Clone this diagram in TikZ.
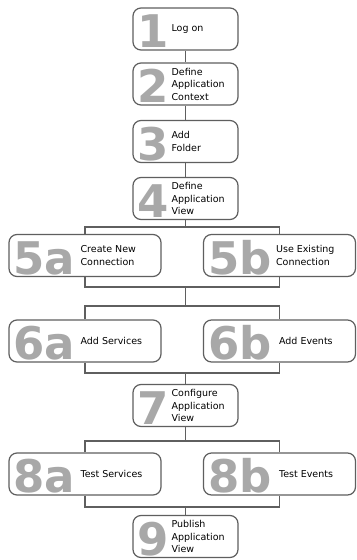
\documentclass[tikz,border=0pt]{standalone}
\usepackage{fontspec}
\setmainfont{DejaVu Sans}
\usepackage{tikz}
\usetikzlibrary{positioning,calc}
\definecolor{numgray}{RGB}{168,168,168}
\definecolor{linegray}{RGB}{95,95,95}

\begin{document}
\begin{tikzpicture}[
    x=1pt,
    y=-1pt,
    stagebox/.style={draw=linegray,line width=1.2pt,rounded corners=8pt,minimum width=105pt,minimum height=42pt,inner sep=0pt},
    widebox/.style={stagebox,minimum width=152pt},
    num/.style={anchor=base west,inner sep=0pt,text height=33pt,text depth=0pt,text=numgray,font=\fontsize{45}{45}\selectfont\bfseries},
    txt/.style={anchor=west,inner sep=0pt,align=left,font=\fontsize{9.5}{12.5}\selectfont},
    link/.style={draw=linegray,line width=1.2pt}
    ]
    \path[fill=white] (0,0) rectangle (354,560);

    \node[stagebox] (b1) at (185.5, 29) {};
    \node[stagebox] (b2) at (185.5, 84) {};
    \node[stagebox] (b3) at (185.5,141.5) {};
    \node[stagebox] (b4) at (185.5,198.5) {};

    \node[widebox] (b5a) at ( 85,255.5) {};
    \node[widebox] (b5b) at (279.5,255.5) {};
    \node[widebox] (b6a) at ( 85,341) {};
    \node[widebox] (b6b) at (279.5,341) {};

    \node[stagebox] (b7) at (185.5,405.5) {};

    \node[widebox] (b8a) at ( 85,474) {};
    \node[widebox] (b8b) at (279.5,474) {};

    \node[stagebox] (b9) at (185.5,536.5) {};

    % big numbers
    \node[num] (n1) at ([xshift=5pt,yshift=3pt]b1.south west) {1};
    \node[num] (n2) at ([xshift=5pt,yshift=3pt]b2.south west) {2};
    \node[num] (n3) at ([xshift=5pt,yshift=3pt]b3.south west) {3};
    \node[num] (n4) at ([xshift=5pt,yshift=3pt]b4.south west) {4};
    \node[num] (n5a) at ([xshift=5pt,yshift=3pt]b5a.south west) {5a};
    \node[num] (n5b) at ([xshift=5pt,yshift=3pt]b5b.south west) {5b};
    \node[num] (n6a) at ([xshift=5pt,yshift=3pt]b6a.south west) {6a};
    \node[num] (n6b) at ([xshift=5pt,yshift=3pt]b6b.south west) {6b};
    \node[num] (n7) at ([xshift=5pt,yshift=3pt]b7.south west) {7};
    \node[num] (n8a) at ([xshift=5pt,yshift=3pt]b8a.south west) {8a};
    \node[num] (n8b) at ([xshift=5pt,yshift=3pt]b8b.south west) {8b};
    \node[num] (n9) at ([xshift=5pt,yshift=3pt]b9.south west) {9};

    % labels
    \node[txt] (t1) at ([xshift=39pt]b1.west) {Log on};
    \node[txt] (t2) at ([xshift=39pt]b2.west) {Define\\Application\\Context};
    \node[txt] (t3) at ([xshift=39pt]b3.west) {Add\\Folder};
    \node[txt] (t4) at ([xshift=39pt]b4.west) {Define\\Application\\View};
    \node[txt] (t5a) at ([xshift=72pt]b5a.west) {Create New\\Connection};
    \node[txt] (t5b) at ([xshift=73pt]b5b.west) {Use Existing\\Connection};
    \node[txt] (t6a) at ([xshift=72pt]b6a.west) {Add Services};
    \node[txt] (t6b) at ([xshift=76pt]b6b.west) {Add Events};
    \node[txt] (t7) at ([xshift=39pt]b7.west) {Configure\\Application\\View};
    \node[txt] (t8a) at ([xshift=72pt]b8a.west) {Test Services};
    \node[txt] (t8b) at ([xshift=76pt]b8b.west) {Test Events};
    \node[txt] (t9) at ([xshift=39pt]b9.west) {Publish\\Application\\View};

    % junctions
    \coordinate (s5) at (185.5,227);
    \coordinate (m5) at (185.5,287);
    \coordinate (s6) at (185.5,306);
    \coordinate (m6) at (185.5,373);
    \coordinate (s8) at (185.5,441);
    \coordinate (m8) at (185.5,507);

    % main column
    \draw[link] (b1) -- (b2);
    \draw[link] (b2) -- (b3);
    \draw[link] (b3) -- (b4);
    \draw[link] (b4) -- (s5);
    % split and join 5
    \draw[link] (b5a.north) |- (s5) -| (b5b.north);
    \draw[link] (b5a.south) |- (m5) -| (b5b.south);
    \draw[link] (m5) -- (s6);
    % split and join 6
    \draw[link] (b6a.north) |- (s6) -| (b6b.north);
    \draw[link] (b6a.south) |- (m6) -| (b6b.south);
    \draw[link] (m6) -- (b7);
    % split and join 8
    \draw[link] (b7) -- (s8);
    \draw[link] (b8a.north) |- (s8) -| (b8b.north);
    \draw[link] (b8a.south) |- (m8) -| (b8b.south);
    \draw[link] (m8) -- (b9);
\end{tikzpicture}
\end{document}
